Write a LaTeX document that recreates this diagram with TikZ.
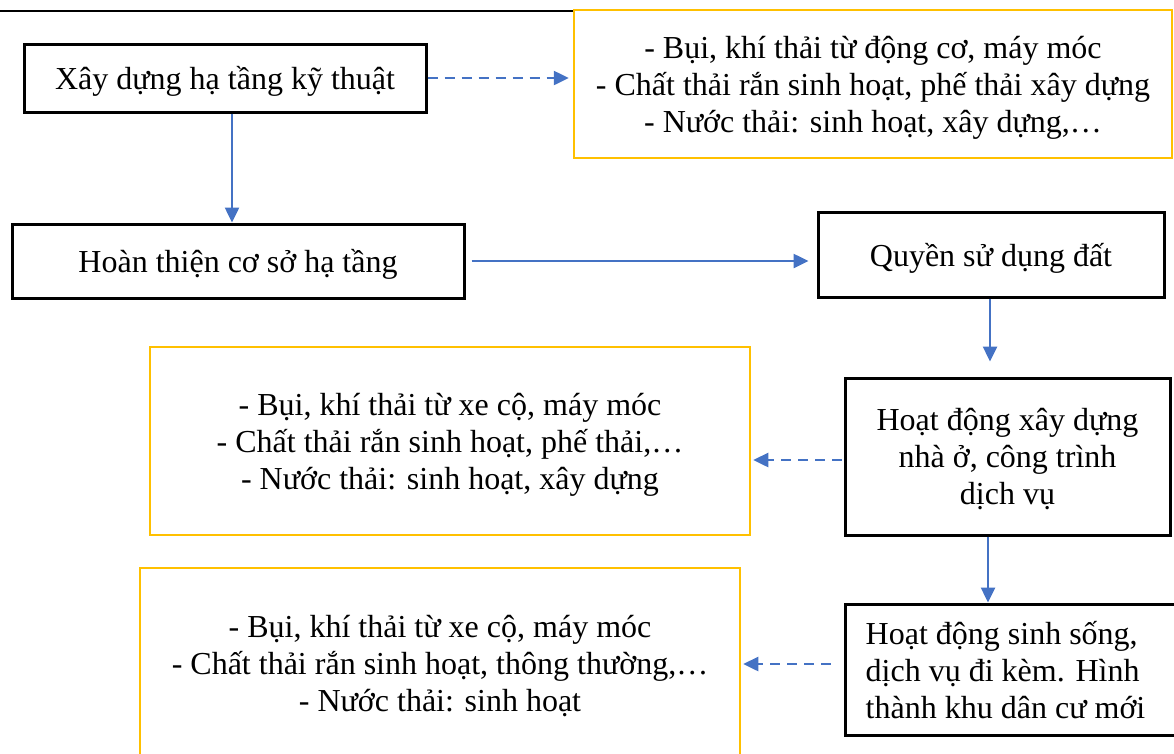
\documentclass[tikz,border=0pt]{standalone}
\usepackage{fontspec}
\setmainfont{Liberation Serif}
\usetikzlibrary{arrows.meta}
\definecolor{bleu}{RGB}{68,114,196}
\definecolor{jaune}{RGB}{255,192,0}

\begin{document}
\begin{tikzpicture} [
       x=1pt, y=-1pt,
       every node/.style={font=\fontsize{32}{37}\selectfont, text depth=0pt},
       boite/.style={draw=black, line width=3pt, inner sep=0pt, align=center},
       dechet/.style={draw=jaune, line width=2.5pt, inner sep=0pt, align=center},
       line/.style={draw=bleu, line width=2.5pt, -{Triangle[length=15pt,width=14pt]}},
       tirets/.style={line, dash pattern=on 10pt off 7pt},
       ]
       \clip (0,0) rectangle (1174,753);
       \draw[line width=2.2pt] (0,11) -- (575,11);
       % etapes
       \node (hatang) [boite, minimum width=402pt, minimum height=68pt] at (225,78) {Xây dựng hạ tầng kỹ thuật};
       \node (hoanthien) [boite, minimum width=452pt, minimum height=74pt] at (238,261) {Hoàn thiện cơ sở hạ tầng};
       \node (quyen) [boite, minimum width=346pt, minimum height=85pt] at (991,254.5) {Quyền sử dụng đất};
       \node (xaydung) [boite, minimum width=325pt, minimum height=157pt] at (1007.5,456.5) {Hoạt động xây dựng\\nhà ở, công trình\\dịch vụ};
       \node (sinhsong) [boite, align=left, text depth=-12pt, minimum width=335pt, minimum height=131pt] at (1012.5,669.5) {Hoạt động sinh sống,\\dịch vụ đi kèm. Hình\\thành khu dân cư mới\rule{14pt}{0pt}};
       % chat thai
       \node (thai1) [dechet, minimum width=598pt, minimum height=148pt] at (873,84) {- Bụi, khí thải từ động cơ, máy móc\\- Chất thải rắn sinh hoạt, phế thải xây dựng\\- Nước thải: sinh hoạt, xây dựng,…};
       \node (thai2) [dechet, minimum width=600pt, minimum height=188pt] at (450,441) {- Bụi, khí thải từ xe cộ, máy móc\\- Chất thải rắn sinh hoạt, phế thải,…\\- Nước thải: sinh hoạt, xây dựng};
       \node (thai3) [dechet, minimum width=600pt, minimum height=190pt] at (440,663) {- Bụi, khí thải từ xe cộ, máy móc\\- Chất thải rắn sinh hoạt, thông thường,…\\- Nước thải: sinh hoạt};
       \begin{scope}[every path/.style=line]
       \path ([xshift=7pt]hatang.south) -- ([xshift=7pt]hatang.south |- hoanthien.north);
       \path[shorten <=6pt, shorten >=8pt] (hoanthien.east) -- (hoanthien.east -| quyen.west);
       \path[shorten >=15pt] ([xshift=-1pt]quyen.south) -- ([xshift=-1pt]quyen.south |- xaydung.north);
       \path ([xshift=-19.5pt]xaydung.south) -- ([xshift=-19.5pt]xaydung.south |- sinhsong.north);
       \end{scope}
       \begin{scope}[every path/.style=tirets]
       \path[shorten >=4pt] (hatang.east) -- (hatang.east -| thai1.west);
       \path[shorten <=2pt, shorten >=2pt] ([yshift=-3.5pt]xaydung.west) -- ([yshift=-3.5pt]xaydung.west -| thai2.east);
       \path[shorten <=13pt, shorten >=2pt] ([yshift=5.5pt]sinhsong.west) -- ([yshift=5.5pt]sinhsong.west -| thai3.east);
       \end{scope}
\end{tikzpicture}
\end{document}
